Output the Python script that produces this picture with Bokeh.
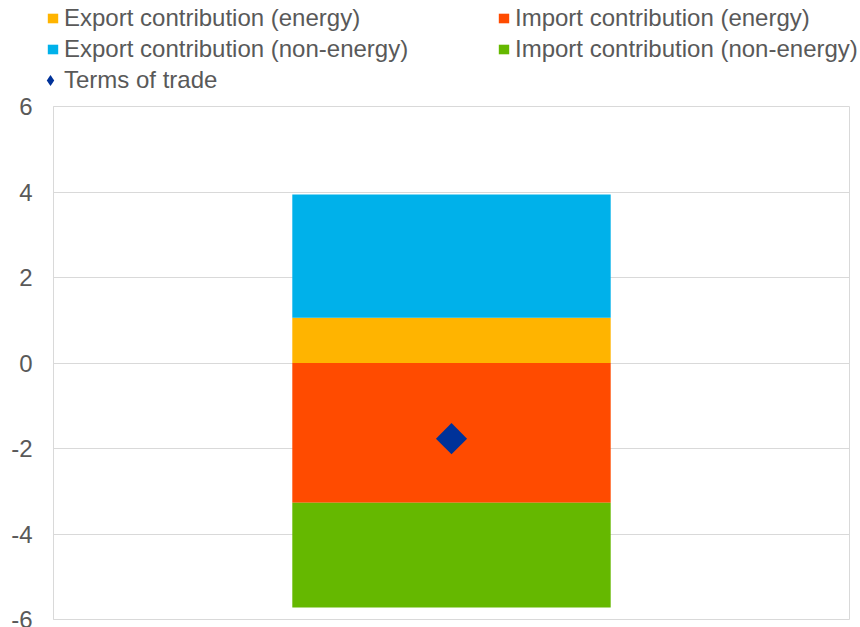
import numpy as np
from bokeh.plotting import figure
from bokeh.layouts import column
from bokeh.models import Legend, LegendItem, Range1d, FactorRange, CustomJSTickFormatter
from bokeh.embed import file_html
from bokeh.resources import INLINE

# Contributions to the change in the terms of trade (percentage points)
categories = ["Terms of trade"]
export_energy = [1.06]
export_non_energy = [2.88]
import_energy = [-3.27]
import_non_energy = [-2.45]
terms_of_trade = [-1.77]

series_labels = [
    "Export contribution (energy)",
    "Import contribution (energy)",
    "Export contribution (non-energy)",
    "Import contribution (non-energy)",
    "Terms of trade",
]
y_ticks = [-6, -4, -2, 0, 2, 4, 6]

ORANGE = "#FFB400"
BLUE = "#00B1EA"
RED = "#FF4B00"
GREEN = "#65B800"
NAVY = "#003299"
TEXT = "#595959"
GRID = "#D9D9D9"
FONT = "Liberation Sans"

W = 860
LEGEND_H = 92
CHART_H = 627 - LEGEND_H

ee = np.array(export_energy)
en = np.array(export_non_energy)
ie = np.array(import_energy)
inn = np.array(import_non_energy)

# ---------------- chart ----------------
p = figure(
    width=W, height=CHART_H,
    x_range=FactorRange(factors=categories, range_padding=0),
    y_range=Range1d(-6, 6),
    output_backend="svg", toolbar_location=None,
    x_axis_type=None,
    min_border_left=53, min_border_right=11,
    min_border_top=14, min_border_bottom=8,
)

# positive stack: exports
p.vbar(x=categories, bottom=0, top=ee, width=0.4, fill_color=ORANGE, line_color=None)
p.vbar(x=categories, bottom=ee, top=ee + en, width=0.4, fill_color=BLUE, line_color=None)
# negative stack: imports
p.vbar(x=categories, bottom=ie, top=0, width=0.4, fill_color=RED, line_color=None)
p.vbar(x=categories, bottom=ie + inn, top=ie, width=0.4, fill_color=GREEN, line_color=None)

# terms of trade marker (square turned on its corner)
p.scatter(x=categories, y=terms_of_trade, marker="square", size=22, angle=np.pi / 4,
          fill_color=NAVY, line_color=None)

ax = p.yaxis[0]
ax.ticker = y_ticks
ax.formatter = CustomJSTickFormatter(code="return tick.toString();")
ax.major_tick_line_color = None
ax.minor_tick_line_color = None
ax.axis_line_color = GRID
ax.axis_line_width = 1
ax.major_label_text_font = FONT
ax.major_label_text_font_size = "24px"
ax.major_label_text_color = TEXT
ax.major_label_standoff = 15

p.xgrid.grid_line_color = None
p.ygrid.grid_line_color = GRID
p.ygrid.grid_line_width = 1
p.outline_line_color = GRID
p.outline_line_width = 1
p.background_fill_color = "white"
p.border_fill_color = "white"

# ---------------- legend strip ----------------
lg = figure(
    width=W, height=LEGEND_H,
    x_range=Range1d(-1, 1), y_range=Range1d(100, 101),
    output_backend="svg", toolbar_location=None,
    x_axis_type=None, y_axis_type=None,
    min_border=0,
)
try:
    lg.frame_align = False  # let the strip's frame span the full width
except AttributeError:
    pass
lg.grid.grid_line_color = None
lg.outline_line_color = None
lg.background_fill_color = "white"
lg.border_fill_color = "white"

# legend proxies (same series, kept outside the strip's visible range)
l_ee = lg.vbar(x=[0], bottom=0, top=ee, width=0.4, fill_color=ORANGE, line_color=None)
l_ie = lg.vbar(x=[0], bottom=ie, top=0, width=0.4, fill_color=RED, line_color=None)
l_en = lg.vbar(x=[0], bottom=ee, top=ee + en, width=0.4, fill_color=BLUE, line_color=None)
l_in = lg.vbar(x=[0], bottom=ie + inn, top=ie, width=0.4, fill_color=GREEN, line_color=None)
l_tot = lg.scatter(x=[0], y=terms_of_trade, marker="diamond", size=14,
                   fill_color=NAVY, line_color=None)

common = dict(
    label_text_font=FONT, label_text_font_size="24px", label_text_color=TEXT,
    padding=0, margin=0, border_line_color=None, background_fill_alpha=0,
)

bars_legend = Legend(
    items=[
        LegendItem(label=series_labels[0], renderers=[l_ee]),
        LegendItem(label=series_labels[1], renderers=[l_ie]),
        LegendItem(label=series_labels[2], renderers=[l_en]),
        LegendItem(label=series_labels[3], renderers=[l_in]),
    ],
    orientation="horizontal", ncols=2,
    location=(46, 29),
    glyph_width=13, glyph_height=12, label_standoff=5,
    label_height=28, label_width=430, spacing=3,
    **common,
)
tot_legend = Legend(
    items=[LegendItem(label=series_labels[4], renderers=[l_tot])],
    location=(36, -3),
    glyph_width=28, glyph_height=30, label_standoff=0,
    label_height=28, spacing=0,
    **common,
)
lg.add_layout(bars_legend, "center")
lg.add_layout(tot_legend, "center")

layout = column(lg, p, spacing=0)
open("out.html", "w").write(file_html(layout, INLINE))
